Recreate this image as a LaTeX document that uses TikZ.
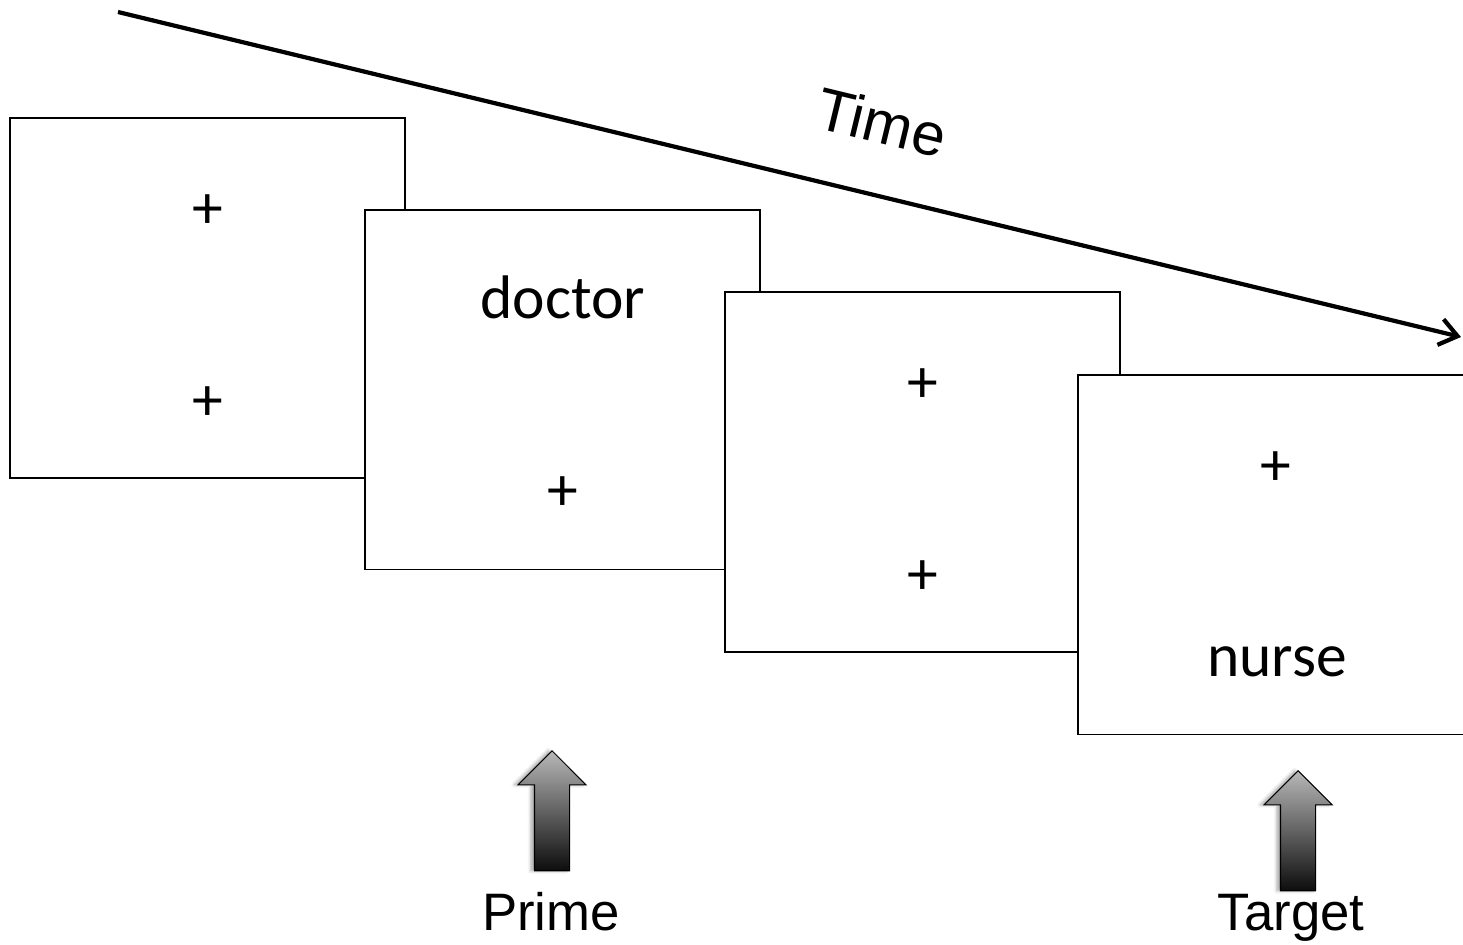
\documentclass[tikz,border=0pt]{standalone}
\usepackage{fontspec}
\setmainfont{Carlito}
\newfontfamily\arialfont{Liberation Sans}
\usetikzlibrary{arrows.meta,shapes.arrows,shadows.blur}

\begin{document}
\begin{tikzpicture}[x=0.02cm,y=-0.02cm,
    screen/.style={draw,fill=white,line width=1.1pt,minimum width=7.9cm,
      minimum height=7.2cm,inner sep=0},
    word/.style={font=\fontsize{35}{40}\selectfont,inner sep=0},
    textlabel/.style={font=\arialfont\fontsize{30}{34}\selectfont,inner sep=0,
      anchor=base},
    heading/.style={font=\arialfont\fontsize{34}{38}\selectfont,inner sep=0},
    pointer/.style={single arrow,rotate=90,anchor=tip,draw=black,
      line width=0.6pt,minimum height=2.4cm,minimum width=1.34cm,
      inner xsep=0pt,inner ysep=0.34cm,single arrow head extend=0.33cm,
      top color=black!28,bottom color=black!95,
      blur shadow={shadow xshift=-2pt,shadow yshift=0pt,shadow opacity=35}}]
    \useasboundingbox (0,0) rectangle (1463,944);
    \clip (0,0) rectangle (1463,944);
    % time axis
    \coordinate (t0) at (118,12);
    \coordinate (t1) at (1461,337);
    \draw[line width=2.4pt,-{Straight Barb[length=10pt,width=15pt]}] (t0) -- (t1);
    \node[heading,rotate=-13.6] (time) at (882,122) {Time};
    % screens, each one over the one before
    \node[screen] (s1) at (207.5,298) {};
    \node[word] (s1top) at (208,212) {+};
    \node[word] (s1bot) at (208,404) {+};
    \node[screen] (s2) at (562.5,389.5) {};
    \node[word,anchor=base] (prime word) at (563,318) {doctor};
    \node[word] (s2bot) at (563,494) {+};
    \node[screen] (s3) at (922.5,472) {};
    \node[word] (s3top) at (923,386) {+};
    \node[word] (s3bot) at (923,578) {+};
    \node[screen] (s4) at (1275.5,554.5) {};
    \node[word] (s4top) at (1276,469) {+};
    \node[word,anchor=base] (target word) at (1277,676) {nurse};
    % markers
    \node[pointer] (primearrow) at (552,750) {};
    \node[pointer] (targetarrow) at (1298,770) {};
    \node[textlabel] (prime) at (551,930) {Prime};
    \node[textlabel] (target) at (1291,930) {Target};
\end{tikzpicture}
\end{document}
